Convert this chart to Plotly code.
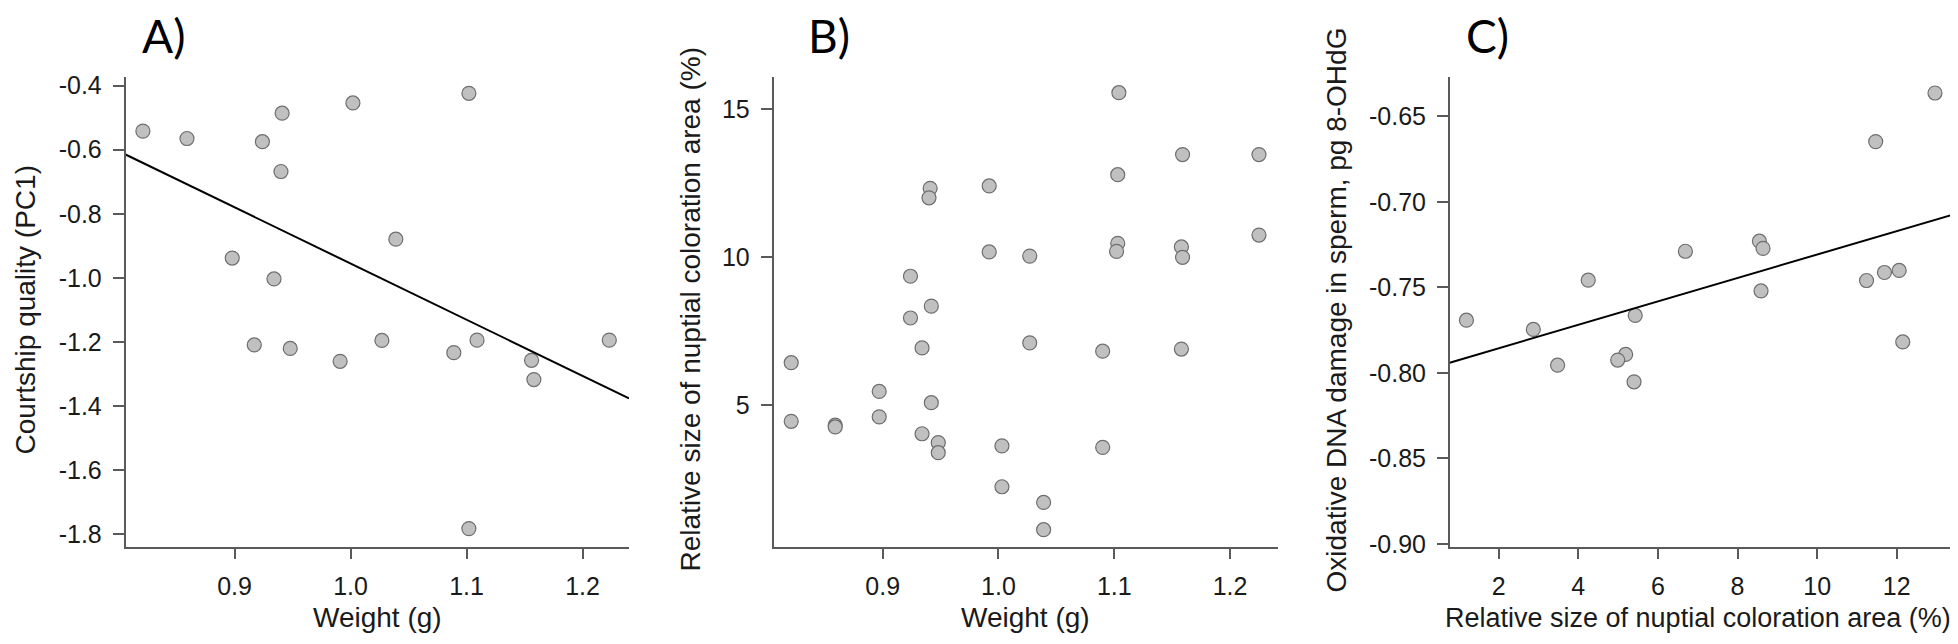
import plotly.graph_objects as go

# ---------------- data ----------------
# Panel A: weight vs courtship quality
a_weight = [0.821, 0.859, 0.924, 0.941, 0.940, 1.002, 1.102, 1.039, 0.898, 0.934,
            0.917, 0.948, 0.991, 1.027, 1.089, 1.109, 1.156, 1.158, 1.223, 1.102]
a_court = [-0.542, -0.565, -0.575, -0.486, -0.668, -0.454, -0.424, -0.879, -0.938, -1.003,
           -1.209, -1.220, -1.260, -1.195, -1.233, -1.194, -1.257, -1.317, -1.194, -1.782]
a_fit = (0.798, -1.753)  # intercept, slope

# Panel B: weight vs relative nuptial coloration area
b_weight = [1.104, 1.159, 1.225, 1.103, 0.992, 0.941, 0.940, 1.225, 1.103, 1.102,
            1.158, 1.159, 0.992, 1.027, 0.924, 0.942, 0.924, 0.934, 1.027, 1.090,
            1.158, 0.821, 0.897, 0.942, 0.821, 0.859, 0.859, 0.897, 0.934, 0.948,
            0.948, 1.003, 1.090, 1.003, 1.039, 1.039]
b_area = [15.56, 13.47, 13.47, 12.79, 12.41, 12.33, 12.01, 10.75, 10.47, 10.20,
          10.35, 10.00, 10.18, 10.04, 9.36, 8.35, 7.95, 6.94, 7.11, 6.83,
          6.90, 6.44, 5.47, 5.09, 4.46, 4.33, 4.27, 4.61, 4.04, 3.74,
          3.40, 3.63, 3.58, 2.25, 1.72, 0.80]

# Panel C: relative nuptial coloration area vs oxidative DNA damage
c_area = [12.96, 11.47, 6.69, 8.55, 8.64, 4.25, 8.59, 11.24, 11.69, 12.06,
          12.15, 1.19, 2.87, 3.48, 5.43, 5.19, 4.99, 5.40]
c_dna = [-0.6364, -0.6648, -0.7289, -0.7230, -0.7272, -0.7458, -0.7521, -0.7460, -0.7413, -0.7401,
         -0.7819, -0.7692, -0.7746, -0.7955, -0.7664, -0.7892, -0.7925, -0.8052]
c_fit = (-0.7993, 0.00685)

# tick labels
a_xticks = [0.9, 1.0, 1.1, 1.2]
a_xlabels = ["0.9", "1.0", "1.1", "1.2"]
a_yticks = [-0.4, -0.6, -0.8, -1.0, -1.2, -1.4, -1.6, -1.8]
a_ylabels = ["-0.4", "-0.6", "-0.8", "-1.0", "-1.2", "-1.4", "-1.6", "-1.8"]
b_yticks = [5, 10, 15]
b_ylabels = ["5", "10", "15"]
c_xticks = [2, 4, 6, 8, 10, 12]
c_xlabels = ["2", "4", "6", "8", "10", "12"]
c_yticks = [-0.65, -0.70, -0.75, -0.80, -0.85, -0.90]
c_ylabels = ["-0.65", "-0.70", "-0.75", "-0.80", "-0.85", "-0.90"]

panel_labels = ["A)", "B)", "C)"]
x_titles = ["Weight (g)", "Weight (g)", "Relative size of nuptial coloration area (%)"]
y_titles = ["Courtship quality (PC1)", "Relative size of nuptial coloration area (%)",
            "Oxidative DNA damage in sperm, pg 8-OHdG"]

# ---------------- layout constants ----------------
W, H = 1958, 644
xr_a = [0.806, 1.240]
yr_a = [-1.838, -0.374]
xr_b = [0.8057, 1.241]
yr_b = [0.23, 16.08]
xr_c = [0.77, 13.47]
yr_c = [-0.9015, -0.6272]

dom_a = [117.5 / W, 621.0 / W]
dom_b = [765.5 / W, 1269.5 / W]
dom_c = [1441.7 / W, 1947.3 / W]
ydom = [(H - 547) / H, (H - 65) / H]

marker = dict(size=14, color="#c0c0c0", line=dict(color="#6e6e6e", width=1.2))
fig = go.Figure()

fig.add_trace(go.Scatter(x=a_weight, y=a_court, mode="markers", marker=marker,
                         xaxis="x", yaxis="y", showlegend=False))
fig.add_trace(go.Scatter(x=xr_a, y=[a_fit[0] + a_fit[1] * v for v in xr_a], mode="lines",
                         line=dict(color="black", width=2), xaxis="x", yaxis="y",
                         showlegend=False))
fig.add_trace(go.Scatter(x=b_weight, y=b_area, mode="markers", marker=marker,
                         xaxis="x2", yaxis="y2", showlegend=False))
fig.add_trace(go.Scatter(x=c_area, y=c_dna, mode="markers", marker=marker,
                         xaxis="x3", yaxis="y3", showlegend=False))
fig.add_trace(go.Scatter(x=xr_c, y=[c_fit[0] + c_fit[1] * v for v in xr_c], mode="lines",
                         line=dict(color="black", width=2), xaxis="x3", yaxis="y3",
                         showlegend=False))

tickfont = dict(family="Liberation Sans, Arial, sans-serif", size=25, color="#1a1a1a")
axis_common = dict(showgrid=False, zeroline=False, showline=True, linecolor="#5a5a5a",
                   linewidth=1.5, ticks="outside", ticklen=11, tickwidth=1.5,
                   tickcolor="#5a5a5a", tickfont=tickfont, tickmode="array",
                   ticklabelstandoff=6)


def ax(domain, rng, anchor, tv, tt):
    d = dict(axis_common)
    d.update(domain=domain, range=rng, anchor=anchor, tickvals=tv, ticktext=tt)
    return d


fig.update_layout(
    width=W, height=H,
    margin=dict(l=0, r=0, t=0, b=0),
    paper_bgcolor="white", plot_bgcolor="white",
    xaxis=ax(dom_a, xr_a, "y", a_xticks, a_xlabels),
    yaxis=ax(ydom, yr_a, "x", a_yticks, a_ylabels),
    xaxis2=ax(dom_b, xr_b, "y2", a_xticks, a_xlabels),
    yaxis2=ax(ydom, yr_b, "x2", b_yticks, b_ylabels),
    xaxis3=ax(dom_c, xr_c, "y3", c_xticks, c_xlabels),
    yaxis3=ax(ydom, yr_c, "x3", c_yticks, c_ylabels),
)

title_font = dict(family="Liberation Sans, Arial, sans-serif", size=28, color="#1a1a1a")
title_font_c = dict(family="Liberation Sans, Arial, sans-serif", size=27, color="#1a1a1a")
label_font = dict(family="Lato, Open Sans, sans-serif", size=46, color="black")

xtitle_cx = [(dom_a[0] + dom_a[1]) / 2 * W, (dom_b[0] + dom_b[1]) / 2 * W, 1690]
ytitle_x = [0, 665, 1311]
plabel_x = [132, 798, 1456]
for i in range(3):
    fig.add_annotation(text=x_titles[i], xref="paper", yref="paper",
                       x=xtitle_cx[i] / W, y=(H - 620) / H,
                       xanchor="center", yanchor="middle", showarrow=False,
                       font=title_font_c if i == 2 else title_font)
    fig.add_annotation(text=y_titles[i], xref="paper", yref="paper",
                       x=ytitle_x[i] / W, y=(H - 304) / H, textangle=-90,
                       xanchor="left", yanchor="middle", showarrow=False, font=title_font)
    fig.add_annotation(text=panel_labels[i], xref="paper", yref="paper",
                       x=plabel_x[i] / W, y=(H - 22) / H,
                       xanchor="left", yanchor="middle", showarrow=False, font=label_font)

fig.write_html("out.html")
